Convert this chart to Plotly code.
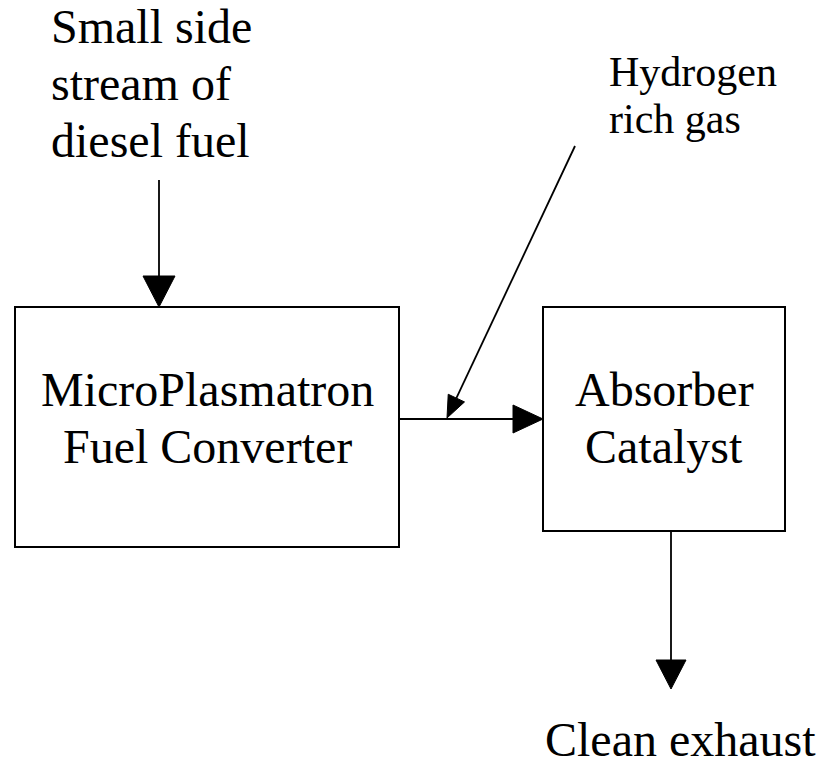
import plotly.graph_objects as go
import math

# ---- diagram content ----
box_labels = [["MicroPlasmatron", "Fuel Converter"], ["Absorber", "Catalyst"]]
input_label = ["Small side", "stream of", "diesel fuel"]
gas_label = ["Hydrogen", "rich gas"]
output_label = ["Clean exhaust"]

# geometry (pixel space of the 825x768 canvas)
boxes = [(15, 307, 399, 547), (543, 307, 785, 531)]
arrows = [  # (x0, y0, x1, y1, head_len, head_half)
    (159, 180, 159, 307, 31, 16),
    (399, 419, 543, 419, 30, 14),
    (575, 146, 447, 418, 22, 9),
    (671, 531, 671, 689, 29, 15),
]

FONT = "Liberation Serif, Times New Roman, serif"
BIG = 48
SMALL = 42

fig = go.Figure()
shapes = []
for (x0, y0, x1, y1) in boxes:
    shapes.append(dict(type="rect", x0=x0, y0=y0, x1=x1, y1=y1,
                       line=dict(color="black", width=2), fillcolor="rgba(0,0,0,0)"))

for (x0, y0, x1, y1, hl, hw) in arrows:
    dx, dy = x1 - x0, y1 - y0
    L = math.hypot(dx, dy)
    ux, uy = dx / L, dy / L
    bx, by = x1 - ux * hl, y1 - uy * hl
    px, py = -uy, ux
    shapes.append(dict(type="line", x0=x0, y0=y0, x1=bx, y1=by,
                       line=dict(color="black", width=1.8)))
    path = (f"M {x1},{y1} L {bx + px*hw},{by + py*hw} "
            f"L {bx - px*hw},{by - py*hw} Z")
    shapes.append(dict(type="path", path=path, fillcolor="black",
                       line=dict(color="black", width=1)))

annotations = []


def add_line(text, x, baseline, size, anchor):
    annotations.append(dict(
        x=x, y=baseline - 0.34 * size, text=text, showarrow=False,
        xanchor=anchor, yanchor="middle", borderpad=0,
        font=dict(family=FONT, size=size, color="black")))


for i, t in enumerate(input_label):
    add_line(t, 50, 43 + 57 * i, BIG, "left")
for b, lines in zip(boxes, box_labels):
    cx = (b[0] + b[2]) / 2
    for i, t in enumerate(lines):
        add_line(t, cx, 406 + 57 * i, BIG, "center")
for i, t in enumerate(gas_label):
    add_line(t, 608, 86 + 47 * i, SMALL, "left")
add_line(output_label[0], 544, 756, BIG, "left")

fig.update_layout(
    width=825, height=768,
    margin=dict(l=0, r=0, t=0, b=0),
    paper_bgcolor="white", plot_bgcolor="white",
    xaxis=dict(range=[0, 825], visible=False, fixedrange=True),
    yaxis=dict(range=[768, 0], visible=False, fixedrange=True),
    shapes=shapes, annotations=annotations, showlegend=False,
)
fig.write_html("out.html", config={"displayModeBar": False},
               post_script="document.body.style.margin='0';"
                           "document.body.style.overflow='hidden';")
